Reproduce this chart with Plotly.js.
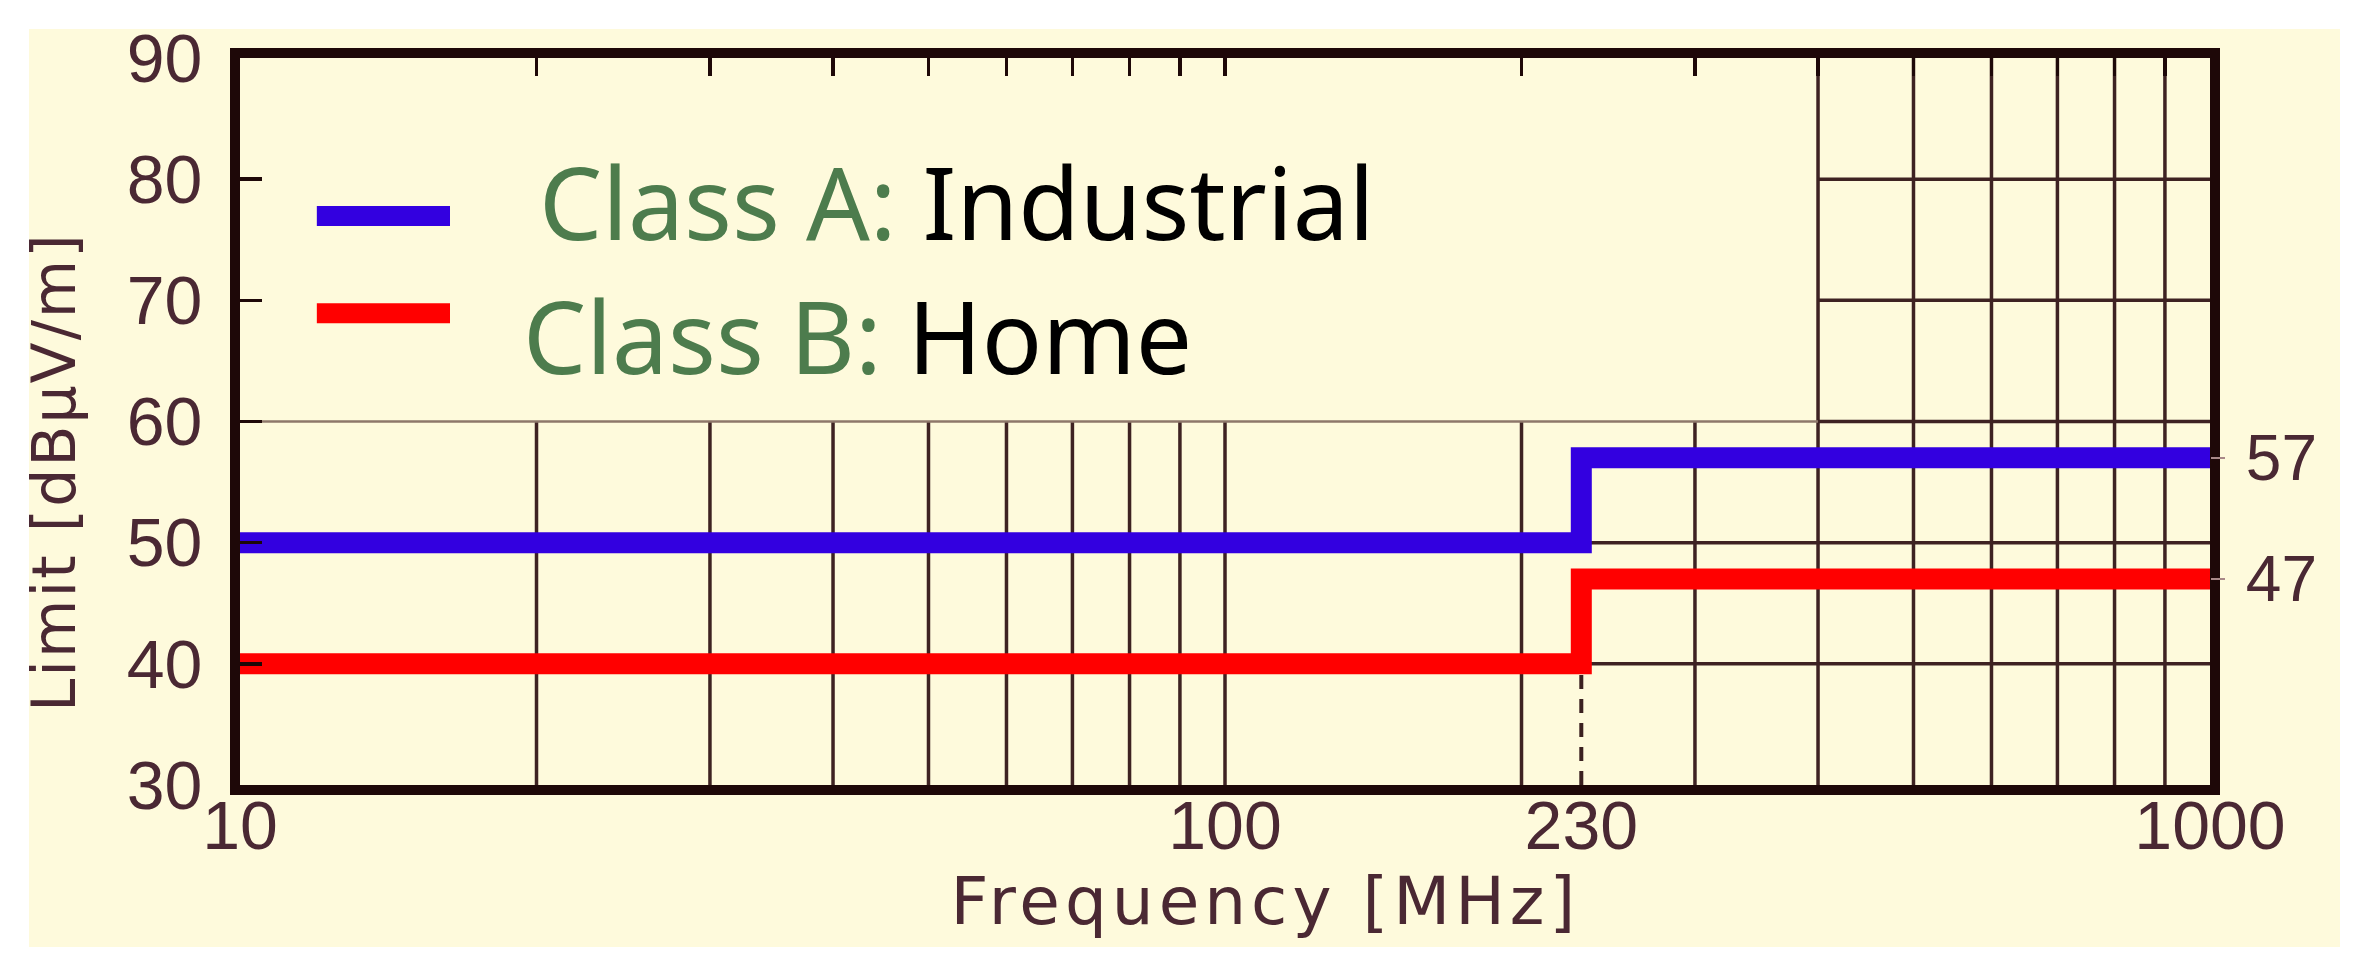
<!DOCTYPE html>
<html>
<head>
<meta charset="utf-8">
<script src="https://cdn.plot.ly/plotly-3.0.1.min.js"></script>
<style>
  html, body { margin: 0; padding: 0; background: #ffffff; }
  #chart { position: absolute; left: 0; top: 0; width: 2370px; height: 969px; }
  /* the original axis titles use a wide, loosely spaced face */
  #chart g.annotation[data-index="2"] text { letter-spacing: 5px; }
  #chart g.annotation[data-index="3"] text { letter-spacing: 2px; }
</style>
</head>
<body>
<div id="chart"></div>
<script>
// limit lines (step at the cutoff frequency)
const freqSteps = [10, 230, 1000];
const classA = [50, 57, 57];
const classB = [40, 47, 47];
const cutoffFreq = 230;

// axis ticks
const xTickVals = [10, 100, 230, 1000];
const xTickText = ['10', '100', '230', '1000'];
const yTickVals = [30, 40, 50, 60, 70, 80, 90];
const rightTickVals = [47, 57];

// grid (upper-left part is covered by the legend box)
const xGridLow = [20, 30, 40, 50, 60, 70, 80, 90, 100, 200, 300, 400, 500, 600, 700, 800, 900];
const xGridHigh = [400, 500, 600, 700, 800, 900];
const yGridFull = [40, 50];
const yGridHigh = [60, 70, 80];
const yLegendEdge = 60;

const gridColor = '#3e2222';
const axisColor = '#1e0808';
const textColor = '#4a2833';
const cream = '#fefadc';

function vLines(xs, y0, y1) {
  const x = [], y = [];
  xs.forEach(v => { x.push(v, v, null); y.push(y0, y1, null); });
  return { x, y };
}
function hLines(ys, x0, x1) {
  const x = [], y = [];
  ys.forEach(v => { x.push(x0, x1, null); y.push(v, v, null); });
  return { x, y };
}

const gridStyle = { color: gridColor, width: 3.5 };
const lowV = vLines(xGridLow, 30, 60);
const highV = vLines(xGridHigh, 60, 90);
const fullH = hLines(yGridFull, 10, 1000);
const highH = hLines(yGridHigh, 400, 1000);
const edgeH = hLines([yLegendEdge], 10, 400);

const traces = [
  { x: lowV.x, y: lowV.y, mode: 'lines', line: gridStyle, hoverinfo: 'skip', showlegend: false },
  { x: highV.x, y: highV.y, mode: 'lines', line: gridStyle, hoverinfo: 'skip', showlegend: false },
  { x: fullH.x, y: fullH.y, mode: 'lines', line: gridStyle, hoverinfo: 'skip', showlegend: false },
  { x: highH.x, y: highH.y, mode: 'lines', line: gridStyle, hoverinfo: 'skip', showlegend: false },
  { x: edgeH.x, y: edgeH.y, mode: 'lines', line: { color: '#8e776a', width: 2.5 }, hoverinfo: 'skip', showlegend: false },
  { x: [cutoffFreq, cutoffFreq], y: [30, classB[0]], mode: 'lines',
    line: { color: '#3a2020', width: 4, dash: '14px,10px' }, hoverinfo: 'skip', showlegend: false },
  { x: freqSteps, y: classA, name: 'Class A: Industrial', mode: 'lines',
    line: { color: '#3300e0', width: 21, shape: 'hv' }, showlegend: false },
  { x: freqSteps, y: classB, name: 'Class B: Home', mode: 'lines',
    line: { color: '#ff0000', width: 21, shape: 'hv' }, showlegend: false },
  // carriers for the top tick axis and the right label axis
  { x: [], y: [], xaxis: 'x2', yaxis: 'y', showlegend: false, hoverinfo: 'skip' },
  { x: [], y: [], xaxis: 'x', yaxis: 'y2', showlegend: false, hoverinfo: 'skip' }
];

const tickFont = { family: 'Liberation Sans, Arial, sans-serif', size: 68, color: textColor };
const titleFont = { family: 'DejaVu Sans, sans-serif', color: textColor };

const layout = {
  width: 2370,
  height: 969,
  paper_bgcolor: '#ffffff',
  plot_bgcolor: cream,
  margin: { l: 240, r: 160, t: 58, b: 184 },
  showlegend: false,
  xaxis: {
    type: 'log',
    range: [1, 3],
    tickmode: 'array',
    tickvals: xTickVals,
    ticktext: xTickText,
    ticks: '',
    showgrid: false,
    zeroline: false,
    showline: true,
    linecolor: axisColor,
    linewidth: 10,
    mirror: true,
    tickfont: tickFont,
    ticklabelstandoff: -28
  },
  xaxis2: {
    type: 'log',
    range: [1, 3],
    overlaying: 'x',
    anchor: 'y',
    side: 'top',
    tickmode: 'array',
    tickvals: xGridLow,
    ticks: 'inside',
    ticklen: 18,
    tickwidth: 3.5,
    tickcolor: axisColor,
    showticklabels: false,
    showgrid: false,
    showline: false,
    zeroline: false
  },
  yaxis: {
    range: [30, 90],
    tickmode: 'array',
    tickvals: yTickVals,
    ticks: 'inside',
    ticklen: 22,
    tickwidth: 3.5,
    tickcolor: axisColor,
    showgrid: false,
    zeroline: false,
    showline: true,
    linecolor: axisColor,
    linewidth: 10,
    mirror: true,
    tickfont: tickFont,
    ticklabelstandoff: 14
  },
  yaxis2: {
    range: [30, 90],
    overlaying: 'y',
    anchor: 'x',
    side: 'right',
    tickmode: 'array',
    tickvals: rightTickVals,
    ticks: 'outside',
    ticklen: 14,
    tickwidth: 2,
    tickcolor: '#a88888',
    showgrid: false,
    showline: false,
    zeroline: false,
    tickfont: { family: 'Liberation Sans, Arial, sans-serif', size: 64, color: textColor },
    ticklabelstandoff: 8
  },
  shapes: [
    // cream card behind the whole chart
    { type: 'rect', xref: 'paper', yref: 'paper', x0: -0.1071, x1: 1.066, y0: -0.2228, y1: 1.0399,
      fillcolor: cream, line: { width: 0 }, layer: 'below' },
    // legend swatches
    { type: 'line', xref: 'paper', yref: 'paper', x0: 0.039, x1: 0.1066, y0: 0.7827, y1: 0.7827,
      line: { color: '#3300e0', width: 20 } },
    { type: 'line', xref: 'paper', yref: 'paper', x0: 0.039, x1: 0.1066, y0: 0.649, y1: 0.649,
      line: { color: '#ff0000', width: 20 } }
  ],
  annotations: [
    { xref: 'paper', yref: 'paper', x: 0.1508, y: 0.803, xanchor: 'left', yanchor: 'middle',
      showarrow: false,
      text: '<span style="color:#4d7c4d">Class A:</span> Industrial',
      font: { family: 'Noto Sans, sans-serif', size: 100, color: '#000000' } },
    { xref: 'paper', yref: 'paper', x: 0.1426, y: 0.619, xanchor: 'left', yanchor: 'middle',
      showarrow: false,
      text: '<span style="color:#4d7c4d">Class B:</span> Home',
      font: { family: 'Noto Sans, sans-serif', size: 100, color: '#000000' } },
    // axis titles
    { xref: 'paper', yref: 'paper', x: 0.5208, y: -0.160, xanchor: 'center', yanchor: 'middle',
      showarrow: false, text: 'Frequency [MHz]',
      font: Object.assign({ size: 66 }, titleFont) },
    { xref: 'paper', yref: 'paper', x: -0.0944, y: 0.4305, xanchor: 'center', yanchor: 'middle',
      showarrow: false, textangle: -90, text: 'Limit [dBμV/m]',
      font: Object.assign({ size: 60 }, titleFont) }
  ]
};

Plotly.newPlot('chart', traces, layout, { displayModeBar: false, staticPlot: true });
</script>
</body>
</html>
